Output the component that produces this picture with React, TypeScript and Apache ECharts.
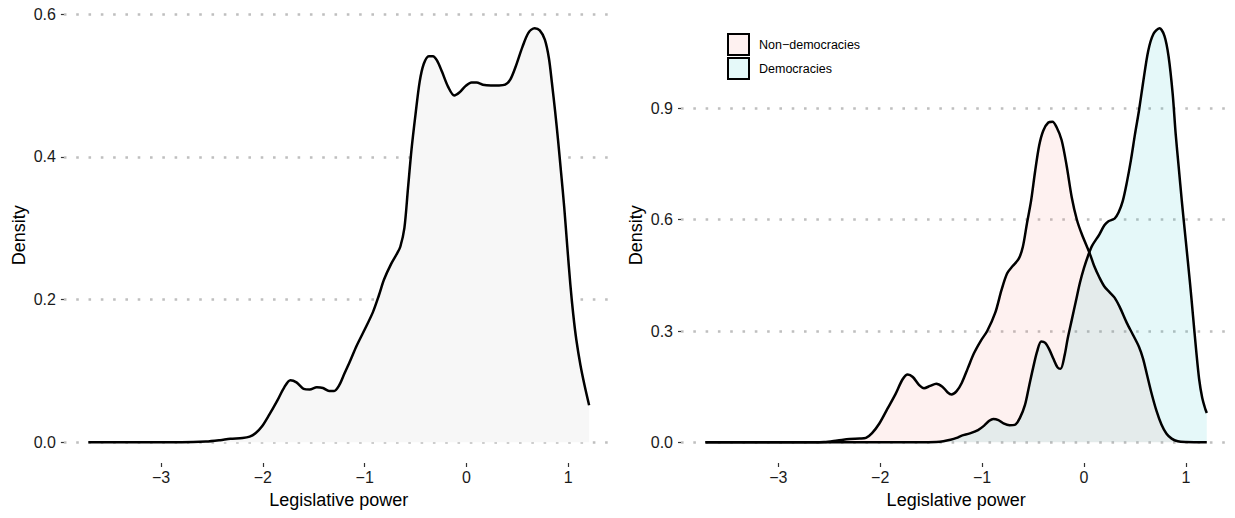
import React, { useEffect, useRef } from "react";
import * as echarts from "echarts";

// ---- Data ----
const allX = [-3.715, -3.2, -2.8, -2.56, -2.42, -2.32, -2.2, -2.13, -2.07, -2.01, -1.94, -1.86, -1.79, -1.73, -1.67, -1.6, -1.54, -1.47, -1.41, -1.35, -1.3, -1.25, -1.2, -1.14, -1.08, -1.0, -0.92, -0.86, -0.81, -0.74, -0.68, -0.65, -0.61, -0.575, -0.54, -0.5, -0.46, -0.42, -0.37, -0.33, -0.29, -0.24, -0.18, -0.12, -0.07, -0.01, 0.05, 0.1, 0.16, 0.24, 0.32, 0.38, 0.43, 0.48, 0.55, 0.61, 0.67, 0.72, 0.77, 0.81, 0.84, 0.87, 0.9, 0.93, 0.96, 0.99, 1.02, 1.05, 1.08, 1.12, 1.16, 1.205];
const allDensity = [0, 0, 0, 0.001, 0.003, 0.005, 0.006, 0.008, 0.013, 0.022, 0.038, 0.058, 0.077, 0.087, 0.084, 0.075, 0.074, 0.077, 0.076, 0.072, 0.072, 0.08, 0.096, 0.115, 0.135, 0.158, 0.182, 0.206, 0.228, 0.25, 0.265, 0.274, 0.3, 0.355, 0.41, 0.46, 0.505, 0.53, 0.541, 0.541, 0.535, 0.519, 0.498, 0.486, 0.49, 0.499, 0.504, 0.504, 0.501, 0.5, 0.5, 0.501, 0.508, 0.525, 0.554, 0.574, 0.58, 0.577, 0.564, 0.538, 0.503, 0.465, 0.423, 0.377, 0.33, 0.275, 0.222, 0.178, 0.143, 0.108, 0.08, 0.052];

const nonDemX = [-3.715, -3.2, -2.8, -2.55, -2.42, -2.3, -2.2, -2.14, -2.08, -2.01, -1.93, -1.85, -1.78, -1.73, -1.68, -1.62, -1.57, -1.51, -1.45, -1.39, -1.34, -1.3, -1.25, -1.2, -1.14, -1.08, -1.01, -0.95, -0.87, -0.81, -0.755, -0.7, -0.64, -0.6, -0.56, -0.52, -0.48, -0.44, -0.4, -0.35, -0.31, -0.27, -0.22, -0.17, -0.12, -0.07, -0.02, 0.055, 0.1, 0.15, 0.2, 0.25, 0.3, 0.35, 0.42, 0.48, 0.54, 0.58, 0.62, 0.66, 0.71, 0.76, 0.81, 0.86, 0.92, 1.0, 1.205];
const nonDemDensity = [0, 0, 0, 0.001, 0.005, 0.009, 0.01, 0.012, 0.025, 0.05, 0.09, 0.13, 0.17, 0.183, 0.176, 0.155, 0.146, 0.152, 0.158, 0.15, 0.135, 0.129, 0.138, 0.16, 0.2, 0.24, 0.275, 0.3, 0.35, 0.41, 0.455, 0.475, 0.495, 0.527, 0.59, 0.65, 0.73, 0.8, 0.84, 0.862, 0.864, 0.85, 0.815, 0.745, 0.66, 0.6, 0.56, 0.51, 0.475, 0.445, 0.42, 0.405, 0.39, 0.365, 0.322, 0.29, 0.257, 0.225, 0.18, 0.135, 0.086, 0.048, 0.023, 0.01, 0.003, 0.001, 0];

const demX = [-3.715, -2.5, -1.6, -1.45, -1.38, -1.31, -1.25, -1.2, -1.12, -1.04, -0.98, -0.93, -0.89, -0.84, -0.79, -0.73, -0.68, -0.63, -0.58, -0.54, -0.5, -0.46, -0.42, -0.38, -0.34, -0.3, -0.26, -0.23, -0.19, -0.16, -0.12, -0.08, -0.04, 0.0, 0.04, 0.08, 0.15, 0.2, 0.24, 0.3, 0.34, 0.38, 0.42, 0.46, 0.5, 0.54, 0.58, 0.63, 0.68, 0.74, 0.79, 0.83, 0.87, 0.9, 0.93, 0.96, 1.0, 1.04, 1.07, 1.1, 1.13, 1.16, 1.19, 1.205];
const demDensity = [0, 0, 0, 0.001, 0.003, 0.007, 0.012, 0.018, 0.024, 0.033, 0.045, 0.058, 0.063, 0.06, 0.051, 0.046, 0.047, 0.065, 0.1, 0.15, 0.2, 0.245, 0.272, 0.268, 0.25, 0.225, 0.202, 0.198, 0.235, 0.28, 0.33, 0.38, 0.43, 0.47, 0.503, 0.53, 0.56, 0.585, 0.596, 0.603, 0.62, 0.65, 0.7, 0.76, 0.83, 0.895, 0.97, 1.055, 1.1, 1.116, 1.095, 1.04, 0.94, 0.83, 0.74, 0.65, 0.54, 0.43, 0.34, 0.25, 0.17, 0.12, 0.09, 0.079];

const xTicks = [-3, -2, -1, 0, 1];
const yTicksLeft = [0, 0.2, 0.4, 0.6];
const yTicksRight = [0, 0.3, 0.6, 0.9];
const legendNames = ["Non\u2212democracies", "Democracies"];
const legendColors = ["#FEF1F0", "#E5F9F9"];

const zip = (xs: number[], ys: number[]) => xs.map((x, i) => [x, ys[i]]);

const FONT = "'Liberation Sans', Arial, Helvetica, sans-serif";

export default function App() {
  const ref = useRef<HTMLDivElement>(null);

  useEffect(() => {
    if (!ref.current) return;
    const chart = echarts.init(ref.current, undefined, { renderer: "svg" });

    const fmtX = (v: number) => (v < 0 ? "\u2212" + Math.abs(v) : String(v));
    const fmtY = (v: number) => v.toFixed(1);

    const xAxisBase = (gridIndex: number) => ({
      type: "value" as const,
      gridIndex,
      min: -3.955,
      max: 1.4455,
      name: "Legislative power",
      nameLocation: "middle" as const,
      nameGap: 28,
      nameTextStyle: { fontFamily: FONT, fontSize: 18, color: "#000" },
      axisLine: { show: false, onZero: false },
      axisTick: {
        show: true,
        length: 4,
        customValues: xTicks,
        lineStyle: { color: "#333", width: 1.2 },
      },
      axisLabel: {
        customValues: xTicks,
        formatter: fmtX,
        fontFamily: FONT,
        fontSize: 16,
        color: "#1a1a1a",
        margin: 6,
      },
      splitLine: { show: false },
    });

    const yAxisBase = (gridIndex: number, min: number, max: number, ticks: number[]) => ({
      type: "value" as const,
      gridIndex,
      min,
      max,
      name: "Density",
      nameLocation: "middle" as const,
      nameGap: 36,
      nameTextStyle: { fontFamily: FONT, fontSize: 18, color: "#000" },
      axisLine: { show: false, onZero: false },
      axisTick: {
        show: true,
        length: 3,
        customValues: ticks,
        lineStyle: { color: "#333", width: 1.2 },
      },
      axisLabel: {
        customValues: ticks,
        formatter: fmtY,
        fontFamily: FONT,
        fontSize: 16,
        color: "#1a1a1a",
        margin: 8,
      },
      splitLine: {
        show: true,
        lineStyle: { color: "#bfbfbf", width: 2.6, type: [2.6, 9.7] },
      },
    });

    const lineStyle = { color: "#000", width: 2.5 };

    chart.setOption({
      animation: false,
      backgroundColor: "#fff",
      grid: [
        { left: 63.9, top: 7.6, width: 549.7, bottom: 55, containLabel: false },
        { left: 681, top: 7.6, width: 550.3, bottom: 55, containLabel: false },
      ],
      xAxis: [xAxisBase(0), xAxisBase(1)],
      yAxis: [
        yAxisBase(0, -0.029, 0.609, yTicksLeft),
        yAxisBase(1, -0.0558, 1.1718, yTicksRight),
      ],
      series: [
        {
          type: "line",
          name: "All",
          xAxisIndex: 0,
          yAxisIndex: 0,
          data: zip(allX, allDensity),
          smooth: 0.3,
          symbol: "none",
          lineStyle,
          areaStyle: { color: "#F7F7F7", opacity: 1, origin: 0 },
        },
        {
          type: "line",
          name: legendNames[0],
          xAxisIndex: 1,
          yAxisIndex: 1,
          data: zip(nonDemX, nonDemDensity),
          smooth: 0.3,
          symbol: "none",
          lineStyle,
          areaStyle: { color: "rgba(248,118,109,0.1)", opacity: 1, origin: 0 },
        },
        {
          type: "line",
          name: legendNames[1],
          xAxisIndex: 1,
          yAxisIndex: 1,
          data: zip(demX, demDensity),
          smooth: 0.3,
          symbol: "none",
          lineStyle,
          areaStyle: { color: "rgba(0,191,196,0.1)", opacity: 1, origin: 0 },
        },
      ],
      graphic: [
        {
          type: "group",
          left: 727,
          top: 33,
          children: [
            {
              type: "rect",
              shape: { x: 1, y: 1, width: 21, height: 21 },
              style: { fill: legendColors[0], stroke: "#000", lineWidth: 2 },
            },
            {
              type: "rect",
              shape: { x: 1, y: 25, width: 21, height: 21 },
              style: { fill: legendColors[1], stroke: "#000", lineWidth: 2 },
            },
            {
              type: "text",
              x: 32,
              y: 12,
              style: {
                text: legendNames[0],
                fontFamily: FONT,
                fontSize: 12.5,
                fill: "#000",
                verticalAlign: "middle",
              },
            },
            {
              type: "text",
              x: 32,
              y: 36,
              style: {
                text: legendNames[1],
                fontFamily: FONT,
                fontSize: 12.5,
                fill: "#000",
                verticalAlign: "middle",
              },
            },
          ],
        },
      ],
    });

    return () => chart.dispose();
  }, []);

  return <div ref={ref} style={{ width: 1235, height: 518, position: "absolute", left: 0, top: 0 }} />;
}
